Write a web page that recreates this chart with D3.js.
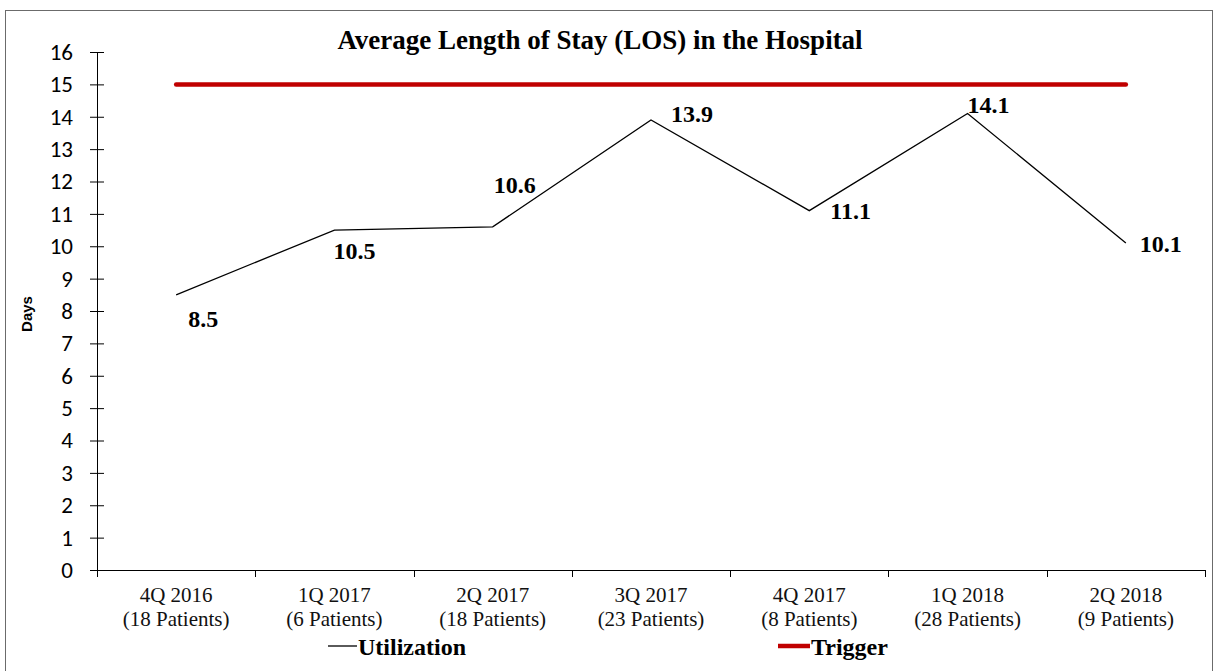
<!DOCTYPE html>
<html>
<head>
<meta charset="utf-8">
<script src="https://cdn.jsdelivr.net/npm/d3@7"></script>
<style>
  html, body { margin: 0; padding: 0; background: #fff; }
  svg { display: block; }
</style>
</head>
<body>
<div id="chart"></div>
<script>
(function () {
  'use strict';

  // chart data
  var quarters = ['4Q 2016', '1Q 2017', '2Q 2017', '3Q 2017', '4Q 2017', '1Q 2018', '2Q 2018'];
  var patients = ['(18 Patients)', '(6 Patients)', '(18 Patients)', '(23 Patients)', '(8 Patients)', '(28 Patients)', '(9 Patients)'];
  var utilization = [8.5, 10.5, 10.6, 13.9, 11.1, 14.1, 10.1];
  var trigger = [15, 15, 15, 15, 15, 15, 15];
  var yTicks = d3.range(0, 17);

  // where each value label sits relative to its point
  var labelOffsets = [[12, 32], [-1, 29], [1, -34], [20, 2], [21, 8], [0, -1], [14, 9]];

  var w = 1215, h = 671;
  var margin = {top: 52, right: 10, bottom: 101, left: 97};
  var serif = '"Liberation Serif", "Times New Roman", serif';

  var svg = d3.select('#chart')
    .append('svg')
    .attr('width', w)
    .attr('height', h);

  // outer frame
  svg.append('rect')
    .attr('x', 5.5).attr('y', 10.5)
    .attr('width', 1207).attr('height', 700)
    .attr('fill', 'none')
    .attr('stroke', '#6b6b6b')
    .attr('stroke-width', 1);

  var x = d3.scaleBand()
    .domain(quarters)
    .range([margin.left, 1205]);

  var y = d3.scaleLinear()
    .domain([0, 16])
    .range([h - margin.bottom, margin.top]);

  var cx = function (d, i) { return x(quarters[i]) + x.bandwidth() / 2; };

  // y axis
  var yAxis = svg.append('g')
    .attr('transform', 'translate(' + margin.left + ',0)')
    .call(d3.axisLeft(y).tickValues(yTicks).tickSizeOuter(0).tickSizeInner(7).tickPadding(17));
  yAxis.select('.domain').attr('stroke', '#000');
  yAxis.selectAll('.tick line').attr('x1', 7).attr('x2', -7).attr('stroke', '#000');
  yAxis.selectAll('.tick text')
    .attr('font-family', 'Carlito, Lato, sans-serif')
    .attr('font-size', 23)
    .attr('fill', '#000');

  svg.append('text')
    .attr('transform', 'translate(32,314) rotate(-90)')
    .attr('text-anchor', 'middle')
    .attr('font-family', '"Liberation Sans", Arial, sans-serif')
    .attr('font-weight', 'bold')
    .attr('font-size', 15)
    .text('Days');

  // x axis: line plus ticks at band edges
  var xg = svg.append('g');
  xg.append('line')
    .attr('x1', x.range()[0]).attr('x2', x.range()[1])
    .attr('y1', y(0) + 0.5).attr('y2', y(0) + 0.5)
    .attr('stroke', '#000');
  var edges = quarters.map(function (q) { return x(q); }).concat([x.range()[1]]);
  xg.selectAll('line.edge')
    .data(edges)
    .enter().append('line')
    .attr('class', 'edge')
    .attr('x1', function (d) { return Math.round(d) + 0.5; })
    .attr('x2', function (d) { return Math.round(d) + 0.5; })
    .attr('y1', y(0)).attr('y2', y(0) + 7)
    .attr('stroke', '#000');

  var cat = xg.selectAll('text.cat')
    .data(quarters)
    .enter().append('text')
    .attr('class', 'cat')
    .attr('text-anchor', 'middle')
    .attr('font-family', serif)
    .attr('font-size', 21)
    .attr('fill', '#111');
  cat.append('tspan')
    .attr('x', function (d, i) { return cx(d, i); })
    .attr('y', 602)
    .text(function (d) { return d; });
  cat.append('tspan')
    .attr('x', function (d, i) { return cx(d, i); })
    .attr('y', 626)
    .text(function (d, i) { return patients[i]; });

  // trigger line
  var line = d3.line()
    .x(function (d, i) { return cx(d, i); })
    .y(function (d) { return y(d); });

  svg.append('path')
    .datum(trigger)
    .attr('d', line)
    .attr('fill', 'none')
    .attr('stroke', '#c00000')
    .attr('stroke-width', 4.5)
    .attr('stroke-linecap', 'round');

  // utilization line
  svg.append('path')
    .datum(utilization)
    .attr('d', line)
    .attr('fill', 'none')
    .attr('stroke', '#000')
    .attr('stroke-width', 1.3);

  svg.selectAll('text.val')
    .data(utilization)
    .enter().append('text')
    .attr('class', 'val')
    .attr('x', function (d, i) { return cx(d, i) + labelOffsets[i][0]; })
    .attr('y', function (d, i) { return y(d) + labelOffsets[i][1]; })
    .attr('font-family', serif)
    .attr('font-weight', 'bold')
    .attr('font-size', 24)
    .text(function (d) { return d.toFixed(1); });

  // title
  svg.append('text')
    .attr('x', 600).attr('y', 49)
    .attr('text-anchor', 'middle')
    .attr('font-family', serif)
    .attr('font-weight', 'bold')
    .attr('font-size', 27)
    .text('Average Length of Stay (LOS) in the Hospital');

  // legend
  var legend = [
    {name: 'Utilization', color: '#000', width: 1.3, x1: 328, x2: 357},
    {name: 'Trigger', color: '#c00000', width: 4.5, x1: 778, x2: 810}
  ];
  var lg = svg.selectAll('g.legend')
    .data(legend)
    .enter().append('g')
    .attr('class', 'legend');
  lg.append('line')
    .attr('x1', function (d) { return d.x1; })
    .attr('x2', function (d) { return d.x2; })
    .attr('y1', 646).attr('y2', 646)
    .attr('stroke', function (d) { return d.color; })
    .attr('stroke-width', function (d) { return d.width; });
  lg.append('text')
    .attr('x', function (d) { return d.x2 + 1; })
    .attr('y', 655)
    .attr('font-family', serif)
    .attr('font-weight', 'bold')
    .attr('font-size', 24)
    .text(function (d) { return d.name; });
})();
</script>
</body>
</html>
